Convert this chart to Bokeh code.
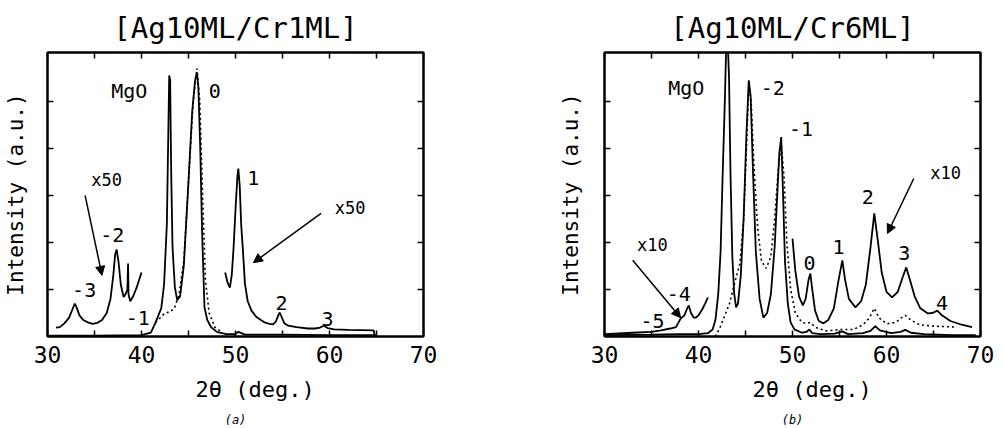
from bokeh.plotting import figure
from bokeh.layouts import row
from bokeh.models import (FixedTicker, LinearAxis, Range1d, Title, Arrow,
                          NormalHead, CustomJSTickFormatter)
from bokeh.core.properties import value
from bokeh.embed import file_html
from bokeh.resources import INLINE

# ---------------- panel (a): Ag10ML/Cr1ML ----------------
a_main_x = [30, 35, 40, 41.0, 41.5, 41.8, 42.1, 42.4, 42.7, 42.85, 42.95, 43.05, 43.15,
            43.3, 43.55, 43.8, 44.1, 44.5, 45.0, 45.4, 45.7, 45.9, 46.05, 46.25, 46.45,
            46.7, 47.0, 47.4, 48.0, 49.0, 50.0, 50.3, 51.0, 55.0, 60.0, 65.0]
a_main_y = [0.02, 0.02, 0.03, 0.08, 0.3, 0.45, 0.6, 1.1, 2.4, 4.3, 5.55, 5.45, 3.6,
            1.9, 1.05, 0.77, 0.85, 1.5, 3.3, 4.8, 5.45, 5.62, 5.3, 4.0, 2.2,
            0.62, 0.35, 0.2, 0.1, 0.05, 0.05, 0.1, 0.04, 0.04, 0.03, 0.03]

a_calc_x = [41.5, 42.0, 42.5, 43.0, 43.5, 44.0, 44.5, 45.0, 45.5, 45.9, 46.2, 46.5,
            46.8, 47.2, 47.8, 48.5]
a_calc_y = [0.3, 0.4, 0.5, 0.52, 0.6, 0.9, 1.6, 3.3, 5.0, 5.7, 5.0, 3.0,
            1.2, 0.5, 0.2, 0.1]

a_x50_lo_x = [30.9, 31.3, 31.8, 32.3, 32.7, 32.9, 33.1, 33.4, 33.8, 34.3, 34.8, 35.3,
              35.8, 36.3, 36.7, 37.0, 37.2, 37.35, 37.55, 37.8, 38.1, 38.3, 38.5,
              38.57, 38.62, 38.8, 39.1, 39.5, 40.0]
a_x50_lo_y = [0.19, 0.2, 0.28, 0.4, 0.6, 0.7, 0.62, 0.45, 0.35, 0.3, 0.27, 0.29,
              0.35, 0.5, 0.8, 1.3, 1.75, 1.85, 1.6, 1.1, 0.84, 0.9, 1.0,
              1.55, 0.9, 0.75, 0.85, 1.05, 1.36]

a_x50_hi_x = [48.9, 49.15, 49.4, 49.6, 49.8, 50.0, 50.2, 50.3, 50.45, 50.6, 50.8, 51.0,
              51.3, 51.7, 52.2, 52.7, 53.1, 53.6, 54.0, 54.3, 54.55, 54.7, 54.9, 55.2,
              55.6, 56.5, 57.7, 58.5, 59.0, 59.4, 59.8, 60.5, 62.0, 64.7, 64.8]
a_x50_hi_y = [1.36, 1.15, 1.04, 1.3, 1.9, 2.7, 3.4, 3.57, 3.2, 2.4, 1.8, 1.13,
              0.75, 0.55, 0.42, 0.35, 0.3, 0.27, 0.26, 0.32, 0.45, 0.51, 0.42, 0.28,
              0.23, 0.2, 0.17, 0.17, 0.19, 0.23, 0.18, 0.15, 0.14, 0.13, 0.03]

a_labels = ["MgO", "0", "1", "-2", "-3", "-1", "2", "3"]
a_label_x = [38.7, 47.8, 51.9, 36.9, 33.9, 39.6, 54.9, 59.8]
a_label_y = [5.23, 5.23, 3.38, 2.15, 0.98, 0.40, 0.72, 0.38]
a_scale_labels = ["x50", "x50"]
a_scale_x = [36.3, 62.2]
a_scale_y = [3.32, 2.74]
a_arrows = [(34.0, 3.0, 35.8, 1.3), (59.1, 2.62, 51.9, 1.57)]

# ---------------- panel (b): Ag10ML/Cr6ML ----------------
b_main_x = [30, 35, 38, 40, 41.0, 41.5, 41.8, 42.1, 42.35, 42.55, 42.8, 42.95, 43.1,
            43.25, 43.4, 43.6, 43.8, 44.0, 44.2, 44.5, 44.8, 45.1, 45.35, 45.55, 45.8,
            46.1, 46.5, 46.9, 47.3, 47.7, 48.1, 48.4, 48.6, 48.8, 49.0, 49.2, 49.5,
            49.8, 50.2, 51.0, 51.5, 51.8, 52.1, 53.0, 54.5, 55.3, 55.9, 57.5, 58.3,
            58.8, 59.3, 60.5, 61.5, 62.0, 62.6, 64.0, 67.0, 69.5]
b_main_y = [0.03, 0.04, 0.05, 0.05, 0.07, 0.15, 0.35, 0.9, 1.8, 3.3, 5.0, 6.2, 6.3,
            5.5, 3.5, 1.7, 0.9, 0.62, 0.7, 1.3, 2.5, 4.3, 5.45, 5.1, 3.5,
            1.8, 0.8, 0.4, 0.5, 0.9, 1.9, 3.1, 3.9, 4.24, 3.0, 1.6, 0.7,
            0.3, 0.15, 0.08, 0.1, 0.15, 0.07, 0.05, 0.06, 0.11, 0.05, 0.07, 0.12,
            0.22, 0.13, 0.07, 0.1, 0.14, 0.08, 0.05, 0.03, 0.03]

b_calc_x = [41.8, 42.3, 42.8, 43.3, 43.8, 44.4, 44.8, 45.1, 45.35, 45.6, 45.9, 46.3,
            46.7, 47.2, 47.7, 48.1, 48.5, 48.8, 49.1, 49.4, 49.8, 50.3, 51.0, 51.5,
            51.9, 52.4, 53.5, 55.3, 56.5, 57.5, 58.2, 58.7, 59.2, 60.0, 61.0, 61.6,
            62.0, 62.6, 63.5, 65.0, 67.5]
b_calc_y = [0.0, 0.2, 0.45, 0.7, 1.1, 1.55, 2.5, 4.0, 5.4, 5.0, 3.6, 2.3,
            1.6, 1.45, 1.7, 2.5, 3.6, 4.1, 3.4, 2.0, 1.0, 0.5, 0.3, 0.28,
            0.3, 0.2, 0.12, 0.15, 0.15, 0.25, 0.4, 0.6, 0.4, 0.27, 0.3, 0.4,
            0.45, 0.35, 0.25, 0.22, 0.2]

b_x10_lo_x = [30.0, 31.0, 33.0, 35.0, 36.0, 37.0, 37.6, 38.1, 38.5, 38.8, 38.97, 39.2,
              39.5, 39.7, 40.0, 40.4, 40.7, 41.0]
b_x10_lo_y = [0.05, 0.06, 0.08, 0.1, 0.13, 0.17, 0.2, 0.38, 0.45, 0.6, 0.66, 0.5,
              0.4, 0.4, 0.45, 0.58, 0.7, 0.83]

b_x10_hi_x = [50.0, 50.3, 50.7, 51.1, 51.4, 51.7, 51.9, 52.1, 52.4, 52.8, 53.3, 53.8,
              54.4, 54.9, 55.3, 55.6, 56.0, 56.7, 57.3, 57.8, 58.3, 58.7, 59.1, 59.5,
              60.0, 60.6, 61.2, 61.7, 62.1, 62.5, 63.0, 63.6, 64.4, 64.9, 65.4, 65.9,
              66.8, 68.0, 69.1]
b_x10_hi_y = [2.08, 1.4, 0.85, 0.66, 0.8, 1.2, 1.34, 1.0, 0.55, 0.33, 0.28, 0.35,
              0.6, 1.2, 1.62, 1.2, 0.8, 0.62, 0.75, 1.1, 1.9, 2.62, 2.0, 1.35,
              0.95, 0.83, 0.95, 1.25, 1.47, 1.2, 0.85, 0.6, 0.49, 0.5, 0.55, 0.45,
              0.33, 0.25, 0.2]

b_labels = ["MgO", "-2", "-1", "2", "1", "0", "3", "4", "-4", "-5"]
b_label_x = [38.7, 47.9, 50.9, 58.0, 54.9, 51.8, 61.9, 65.9, 37.9, 35.1]
b_label_y = [5.28, 5.28, 4.42, 2.96, 1.91, 1.57, 1.77, 0.72, 0.91, 0.34]
b_scale_labels = ["x10", "x10"]
b_scale_x = [66.3, 35.1]
b_scale_y = [3.47, 1.94]
b_arrows = [(62.9, 3.36, 60.1, 2.19), (33.0, 1.62, 38.1, 0.40)]

x_major = [30, 40, 50, 60, 70]
x_minor = [35, 45, 55, 65]
y_major = [1, 2, 3, 4, 5]
x_label = "2θ (deg.)"
y_label = "Intensity (a.u.)"

FONT = "DejaVu Sans Mono"


def tick_style(ax, ticks, minor):
    ax.ticker = FixedTicker(ticks=ticks, minor_ticks=minor)
    ax.major_tick_in = 6
    ax.major_tick_out = 0
    ax.minor_tick_in = 6
    ax.minor_tick_out = 0
    ax.major_tick_line_width = 1.5
    ax.minor_tick_line_width = 1.5
    ax.axis_line_width = 2
    ax.axis_line_color = "black"
    ax.major_tick_line_color = "black"
    ax.minor_tick_line_color = "black"


def blank_axis(ax, ticks, minor):
    tick_style(ax, ticks, minor)
    ax.formatter = CustomJSTickFormatter(code="return ''")
    ax.major_label_standoff = 0


def make_panel(title, sub, width, left, right, ylab_standoff,
               curves, dotted, labels, lx, ly, slabels, sx, sy, arrows):
    p = figure(width=width, height=428, x_range=Range1d(30, 70), y_range=Range1d(0, 6.04),
               output_backend="svg", toolbar_location=None,
               min_border_left=left, min_border_right=right,
               min_border_top=52, min_border_bottom=92)
    p.background_fill_color = "white"
    p.border_fill_color = "white"
    p.grid.visible = False
    p.outline_line_color = "black"
    p.outline_line_width = 2

    # bottom axis
    xa = p.xaxis[0]
    tick_style(xa, x_major, x_minor)
    xa.major_label_text_font = FONT
    xa.major_label_text_font_size = "23px"
    xa.major_label_text_color = "black"
    xa.major_label_standoff = 9

    # left axis
    ya = p.yaxis[0]
    blank_axis(ya, y_major, [])
    ya.axis_label = y_label
    ya.axis_label_text_font = FONT
    ya.axis_label_text_font_size = "21px"
    ya.axis_label_text_font_style = "normal"
    ya.axis_label_text_color = "black"
    ya.axis_label_standoff = ylab_standoff

    top = LinearAxis()
    blank_axis(top, x_major, x_minor)
    p.add_layout(top, "above")
    rt = LinearAxis()
    blank_axis(rt, y_major, [])
    p.add_layout(rt, "right")

    p.title.text = title
    p.title.align = "center"
    p.title.text_font = FONT
    p.title.text_font_size = "29px"
    p.title.text_font_style = "normal"
    p.title.text_color = "black"
    p.title.standoff = 16

    p.add_layout(Title(text=x_label, align="left", offset=148, text_font=FONT,
                       text_font_size="22px", text_font_style="normal",
                       text_color="black", standoff=18), "below")
    p.add_layout(Title(text=sub, align="center", text_font=FONT, text_font_size="12px",
                       text_font_style="italic", text_color="black", standoff=0), "below")

    for cx, cy in curves:
        p.line(cx, cy, line_color="black", line_width=1.8)
    for cx, cy in dotted:
        p.line(cx, cy, line_color="black", line_width=1.6, line_dash="2 3")

    p.text(x=lx, y=ly, text=labels, text_font=value(FONT), text_font_size="20px",
           text_align="center", text_baseline="middle", text_color="black")
    p.text(x=sx, y=sy, text=slabels, text_font=value(FONT), text_font_size="17px",
           text_align="center", text_baseline="middle", text_color="black")
    for x0, y0, x1, y1 in arrows:
        p.add_layout(Arrow(end=NormalHead(size=9, fill_color="black", line_color="black"),
                           x_start=x0, y_start=y0, x_end=x1, y_end=y1,
                           line_color="black", line_width=1.5))
    return p


pa = make_panel("[Ag10ML/Cr1ML]", "(a)", 500, 45, 77, 20,
                [(a_main_x, a_main_y), (a_x50_lo_x, a_x50_lo_y), (a_x50_hi_x, a_x50_hi_y)],
                [(a_calc_x, a_calc_y)],
                a_labels, a_label_x, a_label_y, a_scale_labels, a_scale_x, a_scale_y, a_arrows)
pb = make_panel("[Ag10ML/Cr6ML]", "(b)", 500, 104, 20, 22,
                [(b_main_x, b_main_y), (b_x10_lo_x, b_x10_lo_y), (b_x10_hi_x, b_x10_hi_y)],
                [(b_calc_x, b_calc_y)],
                b_labels, b_label_x, b_label_y, b_scale_labels, b_scale_x, b_scale_y, b_arrows)

layout = row(pa, pb)
open("out.html", "w").write(file_html(layout, INLINE))
